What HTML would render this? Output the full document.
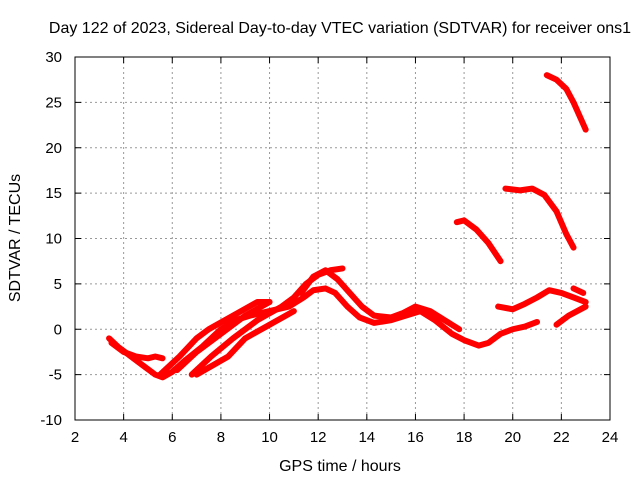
<!DOCTYPE html>
<html><head><meta charset="utf-8"><style>
body{margin:0;background:#fff;}
svg text{font-family:"Liberation Sans",sans-serif;font-size:16px;fill:#000;}
svg text.tk{font-size:15px;}
</style></head><body>
<svg width="640" height="480">
<g id="grid"></g>
<g id="series"></g>
<rect x="75" y="57" width="535" height="363" fill="none" stroke="#000"/>
<g id="ticks"></g>
<text x="340" y="33" text-anchor="middle">Day 122 of 2023, Sidereal Day-to-day VTEC variation (SDTVAR) for receiver ons1</text>
<text x="340" y="471" text-anchor="middle">GPS time / hours</text>
<text transform="translate(20,238) rotate(-90)" text-anchor="middle">SDTVAR / TECUs</text>
</svg>
<script>
const xTicks=[2,4,6,8,10,12,14,16,18,20,22,24];
const yTicks=[-10,-5,0,5,10,15,20,25,30];
const s1x=[3.4,3.8,4.3,4.8,5.3,5.6,6,6.5,7.2,8,8.6,9.2,10,10.8,11.4,11.8,12.3,12.7,13.2,13.7,14.3,15,15.6,16.2,16.8,17.5,18,18.6,19,19.5,20,20.5,21];
const s1y=[-1,-2,-3,-4,-5,-5.3,-4.7,-3.5,-2,0,1,1.5,2,2.5,3.5,4.3,4.5,4,2.5,1.3,0.7,1,1.5,2,1,-0.5,-1.2,-1.8,-1.5,-0.5,0,0.3,0.8];
const s2x=[3.5,4,4.5,5,5.3,5.6];const s2y=[-1.5,-2.5,-3,-3.2,-3,-3.2];
const s3x=[5.5,6.3,7,7.5,8.5,9.5,10];const s3y=[-5,-3,-1,0,1.5,3,3];
const s4x=[6.2,7,8,9,10];const s4y=[-4.5,-2.5,-0.5,1.5,3];
const s5x=[6.8,7.6,8.5,9.5,10.5,11,11.5,12,12.5,13];const s5y=[-5,-3,-1,1,2.5,3.5,5,6,6.5,6.7];
const s6x=[7,8.3,9,10,11];const s6y=[-5,-3,-1,0.5,2];
const s7x=[11.3,11.8,12.3,12.8,13.3,13.8,14.3,15,15.5,16,16.6,17.2,17.8];const s7y=[4,5.8,6.5,5.5,4,2.5,1.5,1.3,1.8,2.5,2,1,0];
const sAx=[17.7,18,18.5,19,19.5];const sAy=[11.8,12,11,9.5,7.5];
const sBx=[19.7,20.3,20.8,21.3,21.8,22.2,22.5];const sBy=[15.5,15.3,15.5,14.8,13,10.5,9];
const sCx=[21.4,21.8,22.2,22.5,23];const sCy=[28,27.5,26.5,25,22];
const sDx=[19.4,19.8,20,20.5,21,21.5,22,22.5,23];const sDy=[2.5,2.3,2.2,2.8,3.5,4.3,4,3.5,3];
const sEx=[21.8,22.3,23];const sEy=[0.5,1.5,2.5];
const sFx=[22.5,22.9];const sFy=[4.5,4];
const series=[[s1x,s1y],[s2x,s2y],[s3x,s3y],[s4x,s4y],[s5x,s5y],[s6x,s6y],[s7x,s7y],[sAx,sAy],[sBx,sBy],[sCx,sCy],[sDx,sDy],[sEx,sEy],[sFx,sFy]];
const X=v=>75+(v-2)*535/22, Y=v=>420-(v+10)*363/40;
const NS="http://www.w3.org/2000/svg";
const grid=document.getElementById('grid'),ticks=document.getElementById('ticks'),sg=document.getElementById('series');
function mk(tag,attrs,parent){const e=document.createElementNS(NS,tag);for(const k in attrs)e.setAttribute(k,attrs[k]);parent.appendChild(e);return e;}
xTicks.forEach(t=>{
 const x=X(t);
 if(t>2&&t<24){const l=mk('line',{x1:x,x2:x,y1:57,y2:420,stroke:'#999','stroke-dasharray':'2,3'},grid);
 
 }
 mk('line',{x1:x,x2:x,y1:420,y2:414,stroke:'#000'},ticks);mk('line',{x1:x,x2:x,y1:57,y2:63,stroke:'#000'},ticks);
 const tx=mk('text',{x:x,y:442,'text-anchor':'middle','class':'tk'},ticks);tx.textContent=t;
 
 
});
yTicks.forEach(t=>{
 const y=Y(t);
 if(t>-10&&t<30){const l=mk('line',{x1:75,x2:610,y1:y,y2:y,stroke:'#999','stroke-dasharray':'2,3'},grid);
 
 }
 mk('line',{x1:75,x2:81,y1:y,y2:y,stroke:'#000'},ticks);mk('line',{x1:604,x2:610,y1:y,y2:y,stroke:'#000'},ticks);
 const tx=mk('text',{x:62,y:y+5,'text-anchor':'end','class':'tk'},ticks);tx.textContent=t;
 
 
});
series.forEach(([xs,ys])=>{
 const p=mk('polyline',{points:xs.map((v,i)=>X(v)+','+Y(ys[i])).join(' '),fill:'none',stroke:'#ff0000','stroke-width':6,'stroke-linejoin':'round','stroke-linecap':'round'},sg);
 
 
});
</script>
</body></html>
